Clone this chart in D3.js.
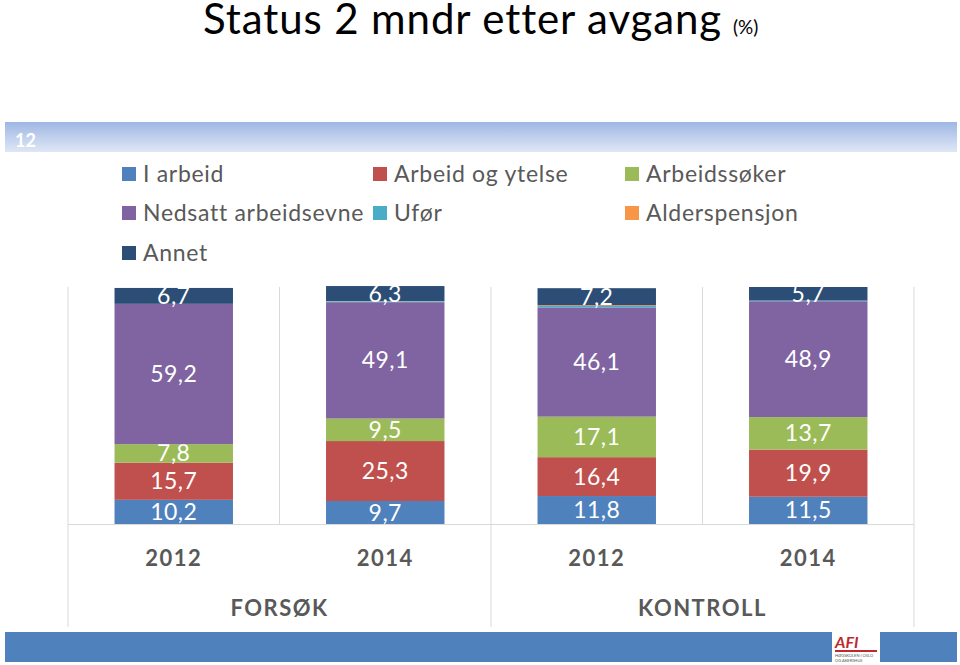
<!DOCTYPE html>
<html><head><meta charset="utf-8">
<script src="https://d3js.org/d3.v7.min.js"></script>
<style>body{margin:0;background:#fff}svg{display:block}</style>
</head><body>
<script>
const categories = ["2012","2014","2012","2014"];
const groups = ["FORSØK","KONTROLL"];
const seriesNames = ["I arbeid","Arbeid og ytelse","Arbeidssøker","Nedsatt arbeidsevne","Ufør","Alderspensjon","Annet"];
const iArbeid = [10.2, 9.7, 11.8, 11.5];
const arbeidYtelse = [15.7, 25.3, 16.4, 19.9];
const arbeidssoker = [7.8, 9.5, 17.1, 13.7];
const nedsatt = [59.2, 49.1, 46.1, 48.9];
const ufor = [0, 0.4, 0.6, 0.3];
const alder = [0, 0.1, 0.3, 0];
const annet = [6.7, 6.3, 7.2, 5.7];
const labelled = [true,true,true,true,false,false,true];
const colors = ["#4f81bd","#c0504d","#9bbb59","#8064a2","#4bacc6","#f79646","#2c4d75"];

(function(){
const W=960,H=665;
const font="Lato, 'Open Sans', sans-serif";
const svg=d3.select("body").append("svg").attr("width",W).attr("height",H);

// title
const t=svg.append("text").attr("x",203).attr("y",34).attr("font-family",font).attr("fill","#000");
t.append("tspan").attr("font-size",42).attr("letter-spacing",0.9).text("Status 2 mndr etter avgang");
t.append("tspan").attr("font-size",19).attr("dx",11).text("(%)");

// top band
const defs=svg.append("defs");
const g1=defs.append("linearGradient").attr("id","tb").attr("x1",0).attr("y1",0).attr("x2",0).attr("y2",1);
g1.append("stop").attr("offset","0%").attr("stop-color","#9fb7e4");
g1.append("stop").attr("offset","100%").attr("stop-color","#dfe7f5");
svg.append("rect").attr("x",5).attr("y",122).attr("width",952).attr("height",30).attr("fill","url(#tb)");
svg.append("text").attr("x",15).attr("y",147).attr("font-family",font).attr("font-weight","bold").attr("font-size",18).attr("fill","#fff").text("12");

// bottom band
svg.append("rect").attr("x",5).attr("y",632).attr("width",952).attr("height",30).attr("fill","#4f81bd");
const logo=svg.append("g");
logo.append("rect").attr("x",832).attr("y",631).attr("width",48).attr("height",32).attr("fill","#fff");
logo.append("text").attr("x",835).attr("y",648).attr("font-family",font).attr("font-weight","bold").attr("font-style","italic").attr("font-size",16).attr("fill","#c0282d").text("AFI");
logo.append("rect").attr("x",835).attr("y",650).attr("width",42).attr("height",2).attr("fill","#c0282d");
logo.append("text").attr("x",835).attr("y",657).attr("font-family",font).attr("font-size",4).attr("fill","#555").text("HØGSKOLEN I OSLO");
logo.append("text").attr("x",835).attr("y",662).attr("font-family",font).attr("font-size",4).attr("fill","#555").text("OG AKERSHUS");

// legend
const legX=[122,373,625], legY=[174,213,253];
seriesNames.forEach((n,i)=>{
  const col=i%3,row=Math.floor(i/3);
  const g=svg.append("g");
  g.append("rect").attr("x",legX[col]).attr("y",legY[row]-7).attr("width",14).attr("height",14).attr("fill",colors[i]);
  g.append("text").attr("x",legX[col]+21).attr("y",legY[row]).attr("dy","0.35em").attr("font-family",font).attr("font-size",23).attr("letter-spacing",0.7).attr("fill","#595959").text(n);
});

// chart
const left=68,right=914,plotTop=287,bottom=524;
const x=d3.scaleBand().domain(d3.range(categories.length)).range([left,right]).paddingInner(0.44).paddingOuter(0.22);
const y=d3.scaleLinear().domain([0,100]).range([bottom,plotTop]);

// gridlines
const xs=d3.range(5).map(i=>left+(right-left)/4*i);
svg.selectAll(".vg").data(xs).enter().append("line").attr("x1",d=>d).attr("x2",d=>d).attr("y1",plotTop).attr("y2",bottom).attr("stroke","#d9d9d9").attr("stroke-width",1);
svg.append("line").attr("x1",left).attr("x2",right).attr("y1",bottom+0.5).attr("y2",bottom+0.5).attr("stroke","#d9d9d9");
[left,(left+right)/2,right].forEach(v=>svg.append("line").attr("x1",v).attr("x2",v).attr("y1",bottom).attr("y2",627).attr("stroke","#d9d9d9"));

const seriesVals=[iArbeid,arbeidYtelse,arbeidssoker,nedsatt,ufor,alder,annet];
const rows=categories.map((c,i)=>{const o={i};seriesVals.forEach((s,k)=>o[k]=s[i]);return o;});
const stack=d3.stack().keys(d3.range(seriesVals.length))(rows);

stack.forEach((layer,k)=>{
  svg.append("g").selectAll("rect").data(layer).enter().append("rect")
    .attr("x",d=>x(d.data.i)).attr("width",x.bandwidth())
    .attr("y",d=>y(d[1])).attr("height",d=>y(d[0])-y(d[1])).attr("fill",colors[k]);
  if(labelled[k]){
    svg.append("g").selectAll("text").data(layer).enter().append("text")
      .attr("x",d=>x(d.data.i)+x.bandwidth()/2).attr("y",d=>(y(d[0])+y(d[1]))/2)
      .attr("dy","0.35em").attr("text-anchor","middle").attr("font-family",font).attr("font-size",23).attr("letter-spacing",0.5).attr("fill","#fff")
      .text(d=>d3.format(".1f")(d.data[k]).replace(".",","));
  }
});

// axis labels
categories.forEach((c,i)=>{
  svg.append("text").attr("x",x(i)+x.bandwidth()/2).attr("y",558).attr("dy","0.35em").attr("text-anchor","middle")
   .attr("font-family",font).attr("font-weight","bold").attr("font-size",22).attr("letter-spacing",1.5).attr("fill","#595959").text(c);
});
groups.forEach((g,i)=>{
  svg.append("text").attr("x",left+(right-left)/4*(2*i+1)).attr("y",608).attr("dy","0.35em").attr("text-anchor","middle")
   .attr("font-family",font).attr("font-weight","bold").attr("font-size",22).attr("letter-spacing",1.5).attr("fill","#595959").text(g);
});
})();
</script>
</body></html>
